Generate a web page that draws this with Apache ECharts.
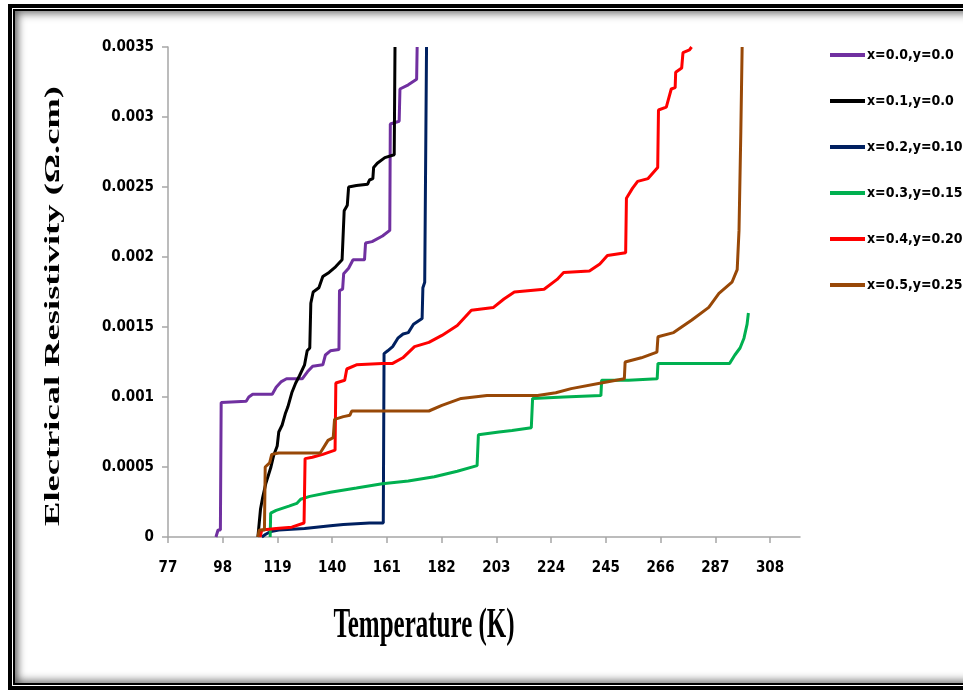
<!DOCTYPE html>
<html>
<head>
<meta charset="utf-8">
<script src="https://cdn.jsdelivr.net/npm/echarts@6/dist/echarts.min.js"></script>
<style>
  html, body { margin: 0; padding: 0; background: #fff; overflow: hidden; }
  #outer { position: absolute; left: 8px; top: 4px; width: 990px; height: 686px;
           border: 4px solid #000; box-sizing: border-box; }
  #inner { position: absolute; left: 1px; top: 1px; right: 1px; bottom: 1px;
           border: 2px solid #000; box-shadow: inset 3px 3px 8px rgba(0,0,0,0.45), inset 0 -3px 8px rgba(0,0,0,0.45); }
  #main { position: absolute; left: 0; top: 0; width: 963px; height: 692px; }
</style>
</head>
<body>
<div id="outer"><div id="inner"></div></div>
<div id="main"></div>
<script>
// legend names
var seriesNames = ['x=0.0,y=0.0', 'x=0.1,y=0.0', 'x=0.2,y=0.10', 'x=0.3,y=0.15', 'x=0.4,y=0.20', 'x=0.5,y=0.25'];
var lineColors = ['#7030A0', '#000000', '#002060', '#00B050', '#FF0000', '#984807'];

// tick labels
var tempTicks = [77, 98, 119, 140, 161, 182, 203, 224, 245, 266, 287, 308];

// [temperature K, resistivity ohm.cm]
var s00 = [[95.4,0],[96.2,0.00005],[97.1,0.00005],[97.4,0.00096],[98,0.00097],[107,0.00097],[108,0.001],[109.5,0.00102],[117,0.00102],[118.5,0.00107],[120.5,0.00111],[122.5,0.00113],[128.5,0.00113],[130.5,0.00118],[132.5,0.00122],[136.4,0.00123],[137.4,0.0013],[139.3,0.00133],[142.6,0.00134],[142.8,0.00176],[144,0.00177],[144.4,0.00188],[146.3,0.00192],[148,0.00198],[152.4,0.00198],[152.8,0.0021],[155.3,0.00211],[159.3,0.00215],[162.1,0.00219],[162.3,0.00295],[165.7,0.00297],[166,0.0032],[169.2,0.00323],[172.4,0.00327],[172.6,0.0035]];
var s01 = [[111.5,0],[112,0.0001],[112.5,0.0002],[113.3,0.00028],[114.5,0.00038],[116.5,0.0005],[117.5,0.00058],[118.9,0.00065],[119.5,0.00075],[120.8,0.0008],[122,0.00088],[123,0.00093],[124.5,0.00103],[126,0.0011],[127.4,0.00115],[129.4,0.00123],[130.4,0.00133],[131.4,0.00135],[131.8,0.00167],[132.7,0.00175],[134.9,0.00178],[136.4,0.00186],[138.8,0.00189],[141.3,0.00193],[143.8,0.00198],[144.3,0.00198],[144.6,0.00233],[145.8,0.00237],[146.3,0.0025],[149.3,0.00251],[153.6,0.00252],[154.3,0.00255],[155.6,0.00256],[155.9,0.00264],[157.3,0.00267],[160.2,0.00271],[163.8,0.00273],[164.1,0.0035]];
var s02 = [[113,0],[114.5,0.00002],[116.5,0.00004],[119.5,0.00005],[129.4,0.00006],[139.3,0.00008],[144.3,0.00009],[154.3,0.0001],[159.6,0.0001],[159.9,0.00131],[161.3,0.00133],[163.2,0.00136],[165.2,0.00142],[167.2,0.00145],[169.2,0.00146],[171.2,0.00152],[174.5,0.00156],[174.8,0.00178],[175.5,0.00182],[176.2,0.0035]];
var s03 = [[116.2,0],[116.4,0.00017],[118.5,0.00019],[123.4,0.00022],[126.4,0.00024],[127.9,0.00027],[131.4,0.00029],[139.3,0.00032],[149.3,0.00035],[159.2,0.00038],[169.2,0.0004],[179.2,0.00043],[188,0.00047],[195.6,0.00051],[196.1,0.00073],[204,0.00075],[209,0.00076],[216.4,0.00078],[216.9,0.00099],[228.9,0.001],[243.1,0.00101],[243.4,0.00112],[253.7,0.00112],[264.7,0.00113],[265,0.00124],[292.5,0.00124],[294.5,0.0013],[296.5,0.00135],[298,0.00142],[299.2,0.00152],[299.7,0.0016]];
var s04 = [[112.3,0],[113,0.00005],[118.5,0.00006],[124.5,0.00007],[129.2,0.0001],[129.6,0.00056],[132.4,0.00057],[136.4,0.00059],[141.1,0.00062],[141.4,0.0011],[144.8,0.00112],[145.6,0.0012],[149.3,0.00123],[159.2,0.00124],[163.2,0.00124],[167.1,0.00128],[171.6,0.00136],[177.1,0.00139],[182.1,0.00144],[188,0.00151],[193.4,0.00162],[201.9,0.00164],[205.9,0.0017],[209.9,0.00175],[221.3,0.00177],[226.3,0.00184],[228.8,0.00189],[238.7,0.0019],[242.7,0.00195],[245.6,0.00201],[252.6,0.00203],[252.9,0.00242],[255.2,0.00249],[257.2,0.00254],[261.2,0.00256],[264.9,0.00264],[265.2,0.00305],[268.2,0.00307],[270.1,0.0032],[271.6,0.00321],[271.8,0.00332],[274.1,0.00335],[274.6,0.00346],[277.1,0.00348],[277.9,0.0035]];
var s05 = [[111.5,0],[112,0.00005],[114,0.00005],[114.3,0.0005],[116,0.00053],[116.8,0.00059],[119.5,0.0006],[135.4,0.0006],[138.4,0.00069],[140.4,0.00071],[140.9,0.00084],[144.3,0.00086],[146.8,0.00087],[147.5,0.0009],[164.2,0.0009],[177.1,0.0009],[182.1,0.00094],[189.5,0.00099],[199.4,0.00101],[218.8,0.00101],[225.8,0.00103],[231.7,0.00106],[243.2,0.0011],[252.1,0.00113],[252.4,0.00125],[258.6,0.00128],[264.6,0.00132],[265,0.00143],[271,0.00146],[278,0.00155],[284.5,0.00164],[288.4,0.00174],[293.4,0.00182],[295.4,0.00191],[296.1,0.00219],[296.8,0.0029],[297.3,0.0035]];

var allData = [s00, s01, s02, s03, s04, s05];

var labelFont = '"Liberation Sans Narrow", "DejaVu Sans Condensed", sans-serif';

var chart = echarts.init(document.getElementById('main'));

chart.setOption({
  animation: false,
  grid: { left: 168, right: 163, top: 47, bottom: 155 },
  legend: {
    orient: 'vertical',
    left: 825,
    top: 40,
    icon: 'rect',
    itemWidth: 35,
    itemHeight: 4,
    itemGap: 26,
    data: seriesNames,
    textStyle: { fontFamily: labelFont, fontWeight: 'bold', fontSize: 14, lineHeight: 20, color: '#000', padding: [0, 0, 0, -3] }
  },
  xAxis: {
    type: 'value',
    min: 77,
    max: 319.5,
    splitLine: { show: false },
    axisLine: { lineStyle: { color: '#a6a6a6', width: 1.5 } },
    axisTick: { length: 6, lineStyle: { color: '#a6a6a6', width: 1.5 }, customValues: tempTicks },
    axisLabel: { customValues: tempTicks, margin: 24, fontFamily: labelFont, fontWeight: 'bold', fontSize: 15, color: '#000' }
  },
  yAxis: {
    type: 'value',
    min: 0,
    max: 0.0035,
    interval: 0.0005,
    splitLine: { show: false },
    axisLine: { show: true, lineStyle: { color: '#a6a6a6', width: 1.5 } },
    axisTick: { show: true, length: 6, lineStyle: { color: '#a6a6a6', width: 1.5 } },
    axisLabel: { margin: 14, fontFamily: labelFont, fontWeight: 'bold', fontSize: 15, color: '#000' }
  },
  graphic: [
    {
      type: 'text', x: 53, y: 306, rotation: Math.PI / 2, scaleX: 1.66,
      style: { text: 'Electrical Resistivity (\u03A9.cm)', font: 'bold 22px "Liberation Serif", "Times New Roman", serif',
               fill: '#000', align: 'center', verticalAlign: 'middle' }
    },
    {
      type: 'text', x: 424, y: 626, scaleY: 1.7,
      style: { text: 'Temperature (K)', font: 'bold 25px "Liberation Serif", "Times New Roman", serif',
               fill: '#000', align: 'center', verticalAlign: 'middle' }
    }
  ],
  series: allData.map(function (d, i) {
    return {
      name: seriesNames[i],
      type: 'line',
      data: d,
      showSymbol: false,
      color: lineColors[i],
      lineStyle: { width: 3, color: lineColors[i] }
    };
  })
});
</script>
</body>
</html>
